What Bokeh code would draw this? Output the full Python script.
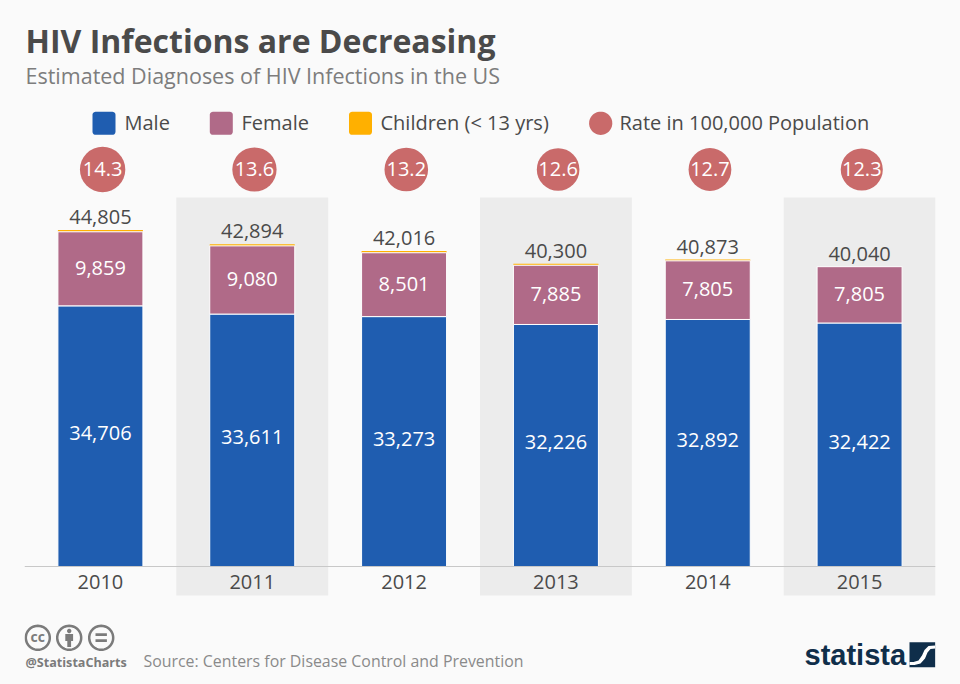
import math
import numpy as np
from bokeh.core.properties import value
from bokeh.embed import file_html
from bokeh.resources import INLINE
from bokeh.models import (ColumnDataSource, FactorRange, Label,
                          PolyAnnotation, Range1d)
from bokeh.plotting import figure
from bokeh.transform import dodge

# ---------- data ----------
years = ["2010", "2011", "2012", "2013", "2014", "2015"]
male = [34706, 33611, 33273, 32226, 32892, 32422]
female = [9859, 9080, 8501, 7885, 7805, 7500]      # bar height as drawn
children = [240, 203, 242, 189, 176, 0]
male_labels = ["34,706", "33,611", "33,273", "32,226", "32,892", "32,422"]
female_labels = ["9,859", "9,080", "8,501", "7,885", "7,805", "7,805"]
total_labels = ["44,805", "42,894", "42,016", "40,300", "40,873", "40,040"]
rates = [14.3, 13.6, 13.2, 12.6, 12.7, 12.3]
shaded_years = ["2011", "2013", "2015"]

BLUE, PINK, AMBER, RED = "#1f5db0", "#b06a88", "#ffb000", "#c96a6a"
BG, BAND, DARK, MID, NAVY = "#fafafa", "#ececec", "#4a4a4a", "#7d7d7d", "#0f2e4a"
FONT = "Open Sans"

W, H = 960, 684
FL, FR = 24, 935              # frame edges in page pixels
BASE = 566.0                  # zero line in page pixels
K = 336.5 / 44805             # pixels per unit


def yv(py):                   # page pixel row -> y value
    return (BASE - py) / K


p = figure(width=W, height=H, output_backend="svg", toolbar_location=None,
           x_range=FactorRange(factors=years, range_padding=0),
           y_range=Range1d(yv(H), yv(0)),
           min_border_left=FL, min_border_right=W - FR,
           min_border_top=0, min_border_bottom=0,
           background_fill_color=BG, border_fill_color=BG, outline_line_color=None)
p.grid.visible = False
p.yaxis.visible = False

ax = p.xaxis[0]
ax.fixed_location = 0
ax.axis_line_color = "#c8c8c8"
ax.axis_line_width = 1
ax.major_tick_line_color = None
ax.minor_tick_line_color = None
ax.major_label_text_font = FONT
ax.major_label_text_font_size = "20px"
ax.major_label_text_color = DARK
ax.major_label_standoff = 2


def X(px):
    return px - FL


def Y(py):
    return H - py


def text(px, py, s, size, color=DARK, style="normal", font=FONT, align="left"):
    p.add_layout(Label(x=X(px), y=Y(py - 0.41 * size), x_units="screen", y_units="screen", text=s,
                       text_font=font, text_font_size=f"{size}px", text_color=color,
                       text_font_style=style, text_align=align,
                       text_baseline="alphabetic"))


def poly(pts, fill, line=None, lw=1):
    p.add_layout(PolyAnnotation(xs=[X(a) for a, _ in pts], ys=[Y(b) for _, b in pts],
                                xs_units="screen", ys_units="screen",
                                fill_color=fill, fill_alpha=1 if fill else 0,
                                line_color=line, line_width=lw, line_alpha=1 if line else 0))


def circle_pts(cx, cy, r, n=48):
    return [(cx + r * math.cos(2 * math.pi * i / n), cy + r * math.sin(2 * math.pi * i / n))
            for i in range(n)]


def round_rect(x0, y0, x1, y1, r=3):
    pts = []
    for cx, cy, a0 in [(x1 - r, y0 + r, -90), (x1 - r, y1 - r, 0), (x0 + r, y1 - r, 90), (x0 + r, y0 + r, 180)]:
        for i in range(7):
            a = math.radians(a0 + 15 * i)
            pts.append((cx + r * math.cos(a), cy + r * math.sin(a)))
    return pts


# shaded bands
p.vbar(x=shaded_years, top=yv(197), bottom=yv(595), width=1.0,
       fill_color=BAND, line_color=None)

# stacked bars
m, f, c = np.array(male), np.array(female), np.array(children)
src = ColumnDataSource(dict(
    year=years, male=male, female=female, children=children,
    male_labels=male_labels, female_labels=female_labels, total_labels=total_labels,
    rates=rates, rate_labels=[f"{r:.1f}" for r in rates],
    male_mid=m / 2, female_mid=m + f / 2,
    sub=m + f, top=m + f + c,
    rate_y=[yv(169)] * len(years),
    rate_size=[12 * math.sqrt(r) for r in rates],
))
BW = 85 / 151.83
p.vbar(x="year", bottom="sub", top="top", width=BW, source=src, fill_color=AMBER, line_color=None)
p.vbar_stack(["male", "female"], x="year", width=BW, source=src,
             color=[BLUE, PINK], line_color="white", line_width=1)

F = value(FONT)
S = value("20px")
p.text(x="year", y="male_mid", text="male_labels", source=src, text_color="white",
       text_font=F, text_font_size=S, text_align="center",
       text_baseline="middle", y_offset=-3)
p.text(x="year", y="female_mid", text="female_labels", source=src, text_color="white",
       text_font=F, text_font_size=S, text_align="center",
       text_baseline="middle", y_offset=-1)
p.text(x="year", y="top", text="total_labels", source=src, text_color=DARK,
       text_font=F, text_font_size=S, text_align="center",
       text_baseline="alphabetic", y_offset=-13)

# rate bubbles
rx = dodge("year", 2.2 / 151.83, range=p.x_range)
p.scatter(x=rx, y="rate_y", size="rate_size", source=src, marker="circle",
          fill_color=RED, line_color=None)
p.text(x=rx, y="rate_y", text="rate_labels", source=src, text_color="white",
       text_font=F, text_font_size=S, text_align="center", text_baseline="middle", y_offset=-1)

# title
text(25, 53.5, "HIV Infections are Decreasing", 32, DARK, "bold")
text(25, 84, "Estimated Diagnoses of HIV Infections in the US", 21.5, MID)

# legend
poly(round_rect(92, 111.3, 115, 134.3), BLUE)
text(124, 130.5, "Male", 20)
poly(round_rect(209.3, 111.3, 232.3, 134.3), PINK)
text(241, 130.5, "Female", 20)
poly(round_rect(348.5, 111.3, 371.5, 134.3), AMBER)
text(380, 130.5, "Children (< 13 yrs)", 20)
poly(circle_pts(600.2, 122.8, 11.6), RED)
text(619, 130.5, "Rate in 100,000 Population", 20)

# footer
GREY = "#7b7b7b"
for cx in (37.3, 68.7, 100.7):
    poly(circle_pts(cx, 637.3, 12), None, GREY, 2.5)
text(37.3, 641.5, "cc", 14, GREY, "bold", align="center")
poly(circle_pts(68.7, 630.5, 2.2), GREY)
poly([(64.8, 633.5), (72.6, 633.5), (72.6, 640.5), (70.6, 640.5), (70.6, 646.5), (66.8, 646.5), (66.8, 640.5), (64.8, 640.5)], GREY)
poly([(95, 632.8), (106.4, 632.8), (106.4, 635.6), (95, 635.6)], GREY)
poly([(95, 638.8), (106.4, 638.8), (106.4, 641.6), (95, 641.6)], GREY)
text(25, 667, "@StatistaCharts", 12.6, GREY, "bold")
text(143, 667, "Source: Centers for Disease Control and Prevention", 15.9, "#8a8a8a")

# logo
text(804, 666.7, "statista", 29, NAVY, "bold", font="Liberation Sans")
poly([(909, 641.7), (934.8, 641.7), (934.8, 666.7), (909, 666.7)], NAVY)
poly([(909, 661.5), (913, 661.5), (918, 660), (921.5, 655), (924, 649.5), (928, 645.5), (934.8, 645),
      (934.8, 648), (930, 648.5), (927, 652), (924.5, 658), (920, 663), (914, 664.5), (909, 664.5)], "white")

html = file_html(p, INLINE)
html = html.replace("</head>", f"<style>html,body{{background:{BG};}}</style></head>", 1)
open("out.html", "w").write(html)
